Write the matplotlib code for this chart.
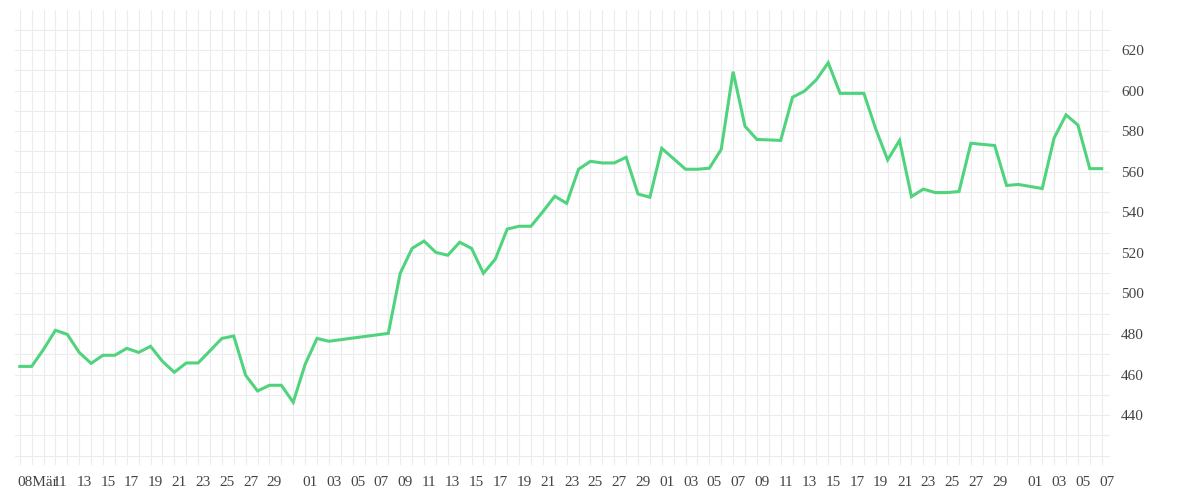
import matplotlib
matplotlib.use("Agg")
import matplotlib.pyplot as plt
import matplotlib.transforms as mtransforms
import numpy as np
import datetime as dt

start = dt.date(2024, 3, 8)
day_idx = [0,1,2,3,4,5,6,7,8,9,10,11,12,13,14,15,16,17,18,19,20,21,22,23,24,25,26,
           31,32,33,34,35,36,37,38,39,40,41,42,43,44,45,46,47,48,49,50,51,52,53,54,
           56,57,58,59,60,61,62,64,65,66,67,68,69,71,72,73,74,75,76,77,78,79,80,
           82,83,84,86,87,88,89,90,91]
values = [464.0,464.0,472.4,481.8,479.8,470.9,465.5,469.5,469.5,472.9,470.9,473.9,466.5,461.1,465.7,465.7,471.7,477.8,479.0,459.6,451.9,454.7,454.7,446.3,465.0,477.8,476.4,
          480.3,509.9,522.2,525.8,520.2,518.8,525.2,522.2,509.9,516.9,531.7,533.1,533.1,540.3,547.9,544.4,561.2,565.1,564.3,564.3,567.1,549.0,547.4,571.5,
          561.2,561.2,561.7,571.0,609.3,582.4,575.9,575.4,596.7,599.7,605.3,613.7,598.6,598.6,581.0,565.8,575.4,547.7,551.4,549.7,549.7,550.2,574.0,
          572.9,553.2,553.7,551.7,576.6,588.0,583.0,561.5,561.5]

n_days = 92
dates = [start + dt.timedelta(days=i) for i in range(n_days)]
tick_pos, tick_lab = [], []
for i, d in enumerate(dates):
    if i == 0:
        tick_pos.append(i); tick_lab.append("08Mär")
    elif d.day % 2 == 1 and d.day != 31 and i > 2:
        tick_pos.append(i); tick_lab.append(f"{d.day:02d}")

fig = plt.figure(figsize=(12, 5), dpi=100)
ax = fig.add_axes([15/1200, 35/500, 1095/1200, 455/500])
ax.plot(day_idx, values, color="#4fd47d", lw=2.2, solid_joinstyle="miter")
ax.set_xlim(-0.4, 91.7)
ax.set_ylim(415.4, 639.7)
ax.set_xticks(range(n_days), minor=True)
ax.set_xticks(tick_pos)
ax.set_xticklabels(tick_lab)
ax.set_yticks(np.arange(420, 640, 10), minor=True)
ax.set_yticks(np.arange(440, 621, 20))
ax.yaxis.tick_right()
ax.grid(True, which="both", color="#ececec", lw=0.8)
ax.set_axisbelow(True)
for s in ax.spines.values():
    s.set_visible(False)
ax.tick_params(which="both", length=0)
ax.tick_params(axis="x", pad=8)
ax.tick_params(axis="y", pad=8)
shift = mtransforms.ScaledTranslation(5/100, 0, fig.dpi_scale_trans)
for k, lab in enumerate(ax.get_xticklabels()):
    if k == 0:
        lab.set_transform(lab.get_transform() + mtransforms.ScaledTranslation(18/100, 0, fig.dpi_scale_trans))
    else:
        lab.set_transform(lab.get_transform() + shift)
for lab in ax.get_xticklabels() + ax.get_yticklabels():
    lab.set_family("Liberation Serif")
    lab.set_fontsize(11)
    lab.set_color("#444444")
fig.savefig("out.png", dpi=100, facecolor="white")
